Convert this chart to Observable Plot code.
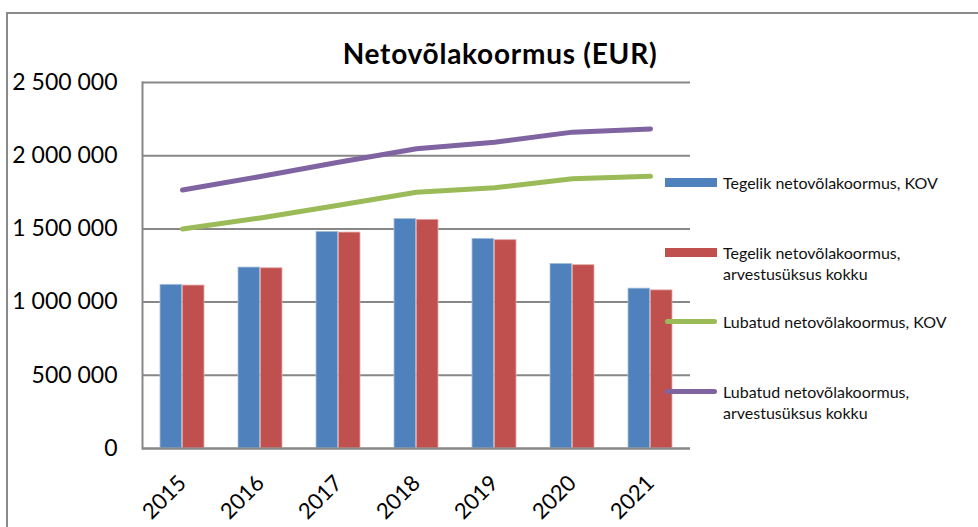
<!DOCTYPE html>
<html><head><meta charset="utf-8">
<script src="https://cdn.jsdelivr.net/npm/d3@7"></script>
<script src="https://cdn.jsdelivr.net/npm/@observablehq/plot@0.6"></script>
<style>
body{margin:0;background:#fff;font-family:Lato,sans-serif;}
#wrap{position:relative;width:978px;height:527px;overflow:hidden;}
#chart{position:absolute;left:0;top:0;}
#frame{position:absolute;left:6px;top:12px;width:1000px;height:600px;border-left:2px solid #8a8a8a;border-top:2px solid #8a8a8a;pointer-events:none;}
#title{position:absolute;left:0;width:1000px;top:37px;text-align:center;font-weight:bold;font-size:28px;letter-spacing:0.75px;line-height:1.2;color:#000;}
.li{position:absolute;left:665px;font-size:16px;line-height:21px;color:#111;}
.li .sw{position:absolute;left:0;width:52px;}
.li .tx{position:absolute;left:58px;white-space:nowrap;}
</style></head>
<body>
<div id="wrap">
  <div id="chart"></div>
  <div id="frame"></div>
  <div id="title">Netovõlakoormus (EUR)</div>
</div>
<script>
const years = ["2015","2016","2017","2018","2019","2020","2021"];
const tegelikKOV    = [1118000,1236000,1480000,1567000,1432000,1261000,1092000];
const tegelikKokku  = [1113000,1231000,1475000,1562000,1423000,1252000,1080000];
const lubatudKOV    = [1500000,1575000,1662000,1750000,1781000,1843000,1859000];
const lubatudKokku  = [1766000,1858000,1955000,2047000,2092000,2161000,2183000];
const seriesNames = [
  ["Tegelik netovõlakoormus, KOV"],
  ["Tegelik netovõlakoormus,","arvestusüksus kokku"],
  ["Lubatud netovõlakoormus, KOV"],
  ["Lubatud netovõlakoormus,","arvestusüksus kokku"]
];
const seriesColors = ["#4F81BD","#C0504D","#9BBB59","#8064A2"];
const yTicks = [0,500000,1000000,1500000,2000000,2500000];

const rows = years.map((y,i)=>({year:y,a:tegelikKOV[i],b:tegelikKokku[i],c:lubatudKOV[i],d:lubatudKokku[i]}));
const fmt = d => d3.format(",")(d).replace(/,/g," ");

const chart = Plot.plot({
  width:978,height:527,
  marginLeft:142,marginRight:288,marginTop:82,marginBottom:79,
  style:{fontFamily:"Lato, sans-serif",color:"#000",background:"transparent"},
  x:{type:"band",domain:years,paddingInner:0.43,paddingOuter:0.215},
  y:{domain:[0,2500000]},
  marks:[
    Plot.gridY(yTicks,{stroke:"#878787",strokeOpacity:1,strokeWidth:2}),
    Plot.barY(rows,{x:"year",y:"a",fill:seriesColors[0],insetRight:22.3,stroke:"#a9c0de",strokeWidth:0.8}),
    Plot.barY(rows,{x:"year",y:"b",fill:seriesColors[1],insetLeft:22.3,stroke:"#e3a9a7",strokeWidth:0.8}),
    Plot.line(rows,{x:"year",y:"c",stroke:seriesColors[2],strokeWidth:5,strokeLinecap:"round",strokeLinejoin:"round"}),
    Plot.line(rows,{x:"year",y:"d",stroke:seriesColors[3],strokeWidth:5,strokeLinecap:"round",strokeLinejoin:"round"}),
    Plot.frame({anchor:"left",stroke:"#878787",strokeWidth:2}),
    Plot.ruleY([0],{stroke:"#878787",strokeWidth:2}),
    Plot.axisY(yTicks,{tickSize:0,tickPadding:25,tickFormat:fmt,fontSize:23,label:null}),
    Plot.axisX({tickSize:0,tickRotate:-45,fontSize:22,tickPadding:31,label:null})
  ]
});
document.getElementById("chart").appendChild(chart);

// legend
const legendCenters = [[182.7],[252.7,273.3],[321.7],[391,412.3]];
const wrap = document.getElementById("wrap");
seriesNames.forEach((lines,i)=>{
  const it = document.createElement("div");
  it.className="li";
  it.style.top = (legendCenters[i][0]-10.5)+"px";
  const sw = document.createElement("div");
  sw.className="sw";
  if(i<2){ sw.style.top="6px"; sw.style.height="9px"; sw.style.background=seriesColors[i]; }
  else { sw.style.top="8px"; sw.style.height="5px"; sw.style.borderRadius="3px"; sw.style.background=seriesColors[i]; }
  const tx = document.createElement("div");
  tx.className="tx";
  tx.innerHTML = lines.join("<br>");
  it.appendChild(sw); it.appendChild(tx);
  wrap.appendChild(it);
});
</script>
</body></html>
